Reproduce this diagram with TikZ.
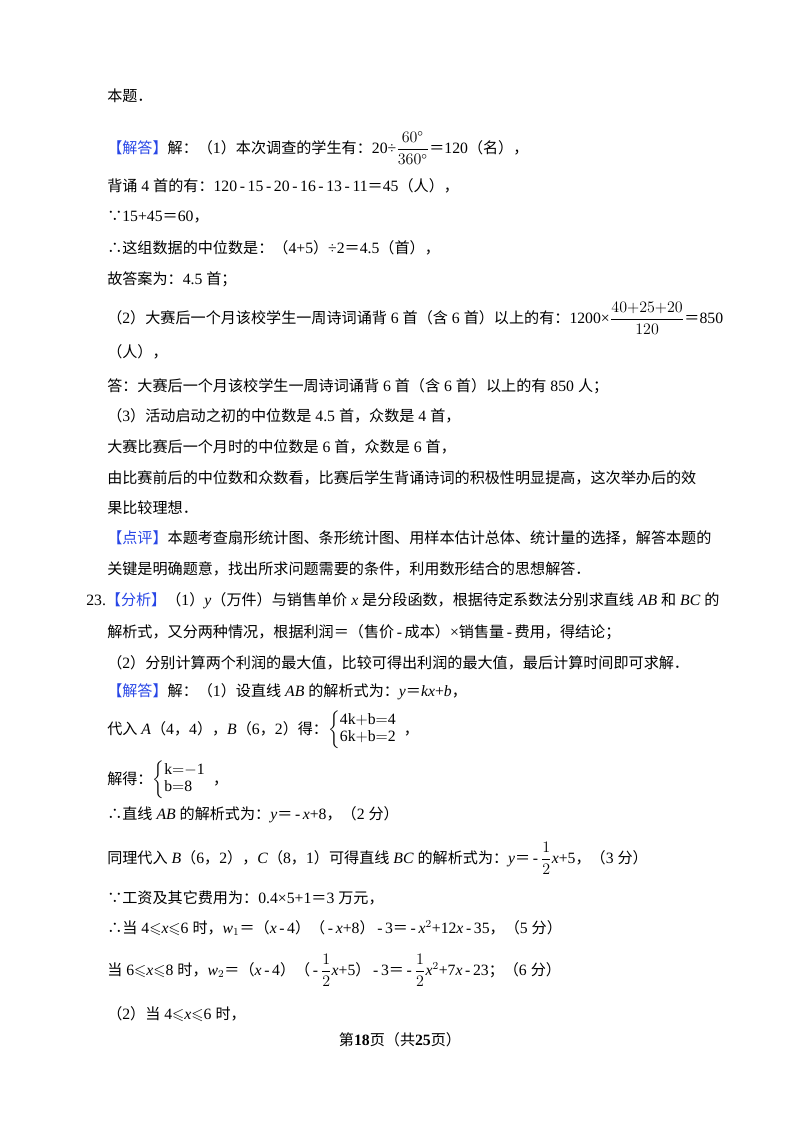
\documentclass[tikz,border=0pt]{standalone}
\usepackage{amsmath,amssymb}
\usepackage{fontspec}
\setmainfont{Liberation Serif}
\newfontfamily\cjk{Noto Sans CJK SC}[Scale=0.96]
\newfontfamily\latin{Liberation Serif}
\XeTeXinterchartokenstate=1
\newXeTeXintercharclass\CJKcls
\count255="3000
\loop \XeTeXcharclass\count255=\CJKcls \ifnum\count255<"9FFF \advance\count255 1 \repeat
\count255="FF00
\loop \XeTeXcharclass\count255=\CJKcls \ifnum\count255<"FF60 \advance\count255 1 \repeat
\XeTeXcharclass"2234=\CJKcls
\XeTeXcharclass"2235=\CJKcls
\XeTeXinterchartoks 0 \CJKcls = {\cjk}
\XeTeXinterchartoks 4095 \CJKcls = {\cjk}
\XeTeXinterchartoks \CJKcls 0 = {\latin}
\XeTeXinterchartoks \CJKcls 4095 = {\latin}
\definecolor{bl}{RGB}{40,70,230}
\tikzset{ln/.style={anchor=west,inner sep=0pt,font=\fontsize{11.8}{14}\selectfont}}
\newcommand\hl[1]{\textcolor{bl}{#1}}
\newcommand\mn{\,-\,}
\newcommand\sys[2]{$\renewcommand\arraystretch{0.9}\left\{\begin{array}{@{}l}\mathrm{#1}\\ \mathrm{#2}\end{array}\right.$}
\begin{document}
\begin{tikzpicture}[x=0.75pt,y=-0.75pt]
\useasboundingbox (0,0) rectangle (800,1132);
\node[ln] (l1) at (107,96) {本题．};
\node[ln] (l2) at (107,148) {\hl{【解答】}解：（1）本次调查的学生有：20÷$\dfrac{60^\circ}{360^\circ}$＝120（名），};
\node[ln] (l3) at (107,186) {背诵 4 首的有：120\mn 15\mn 20\mn 16\mn 13\mn 11＝45（人），};
\node[ln] (l4) at (107,217) {∵15+45＝60，};
\node[ln] (l5) at (107,248) {∴这组数据的中位数是：（4+5）÷2＝4.5（首），};
\node[ln] (l6) at (107,279) {故答案为：4.5 首；};
\node[ln] (l7) at (107,318) {（2）大赛后一个月该校学生一周诗词诵背 6 首（含 6 首）以上的有：1200×$\dfrac{40{+}25{+}20}{120}$＝850};
\node[ln] (l8) at (107,352) {（人），};
\node[ln] (l9) at (107,386) {答：大赛后一个月该校学生一周诗词诵背 6 首（含 6 首）以上的有 850 人；};
\node[ln] (l10) at (107,416) {（3）活动启动之初的中位数是 4.5 首，众数是 4 首，};
\node[ln] (l11) at (107,447) {大赛比赛后一个月时的中位数是 6 首，众数是 6 首，};
\node[ln] (l12) at (107,478) {由比赛前后的中位数和众数看，比赛后学生背诵诗词的积极性明显提高，这次举办后的效};
\node[ln] (l13) at (107,508) {果比较理想．};
\node[ln] (l14) at (107,538) {\hl{【点评】}本题考查扇形统计图、条形统计图、用样本估计总体、统计量的选择，解答本题的};
\node[ln] (l15) at (107,569) {关键是明确题意，找出所求问题需要的条件，利用数形结合的思想解答．};
\node[ln] (l16) at (86,601) {23.\hl{【分析】}（1）\textit{y}（万件）与销售单价 \textit{x} 是分段函数，根据待定系数法分别求直线 \textit{AB} 和 \textit{BC} 的};
\node[ln] (l17) at (107,632) {解析式，又分两种情况，根据利润＝（售价\mn 成本）×销售量\mn 费用，得结论；};
\node[ln] (l18) at (107,663) {（2）分别计算两个利润的最大值，比较可得出利润的最大值，最后计算时间即可求解．};
\node[ln] (l19) at (107,692) {\hl{【解答】}解：（1）设直线 \textit{AB} 的解析式为：\textit{y}＝\textit{kx}+\textit{b}，};
\node[ln] (l20) at (107,730) {代入 \textit{A}（4，4），\textit{B}（6，2）得：\sys{4k{+}b{=}4}{6k{+}b{=}2}，};
\node[ln] (l21) at (107,780) {解得：\sys{k{=}{-}1}{b{=}8}，};
\node[ln] (l22) at (107,815) {∴直线 \textit{AB} 的解析式为：\textit{y}＝\mn\textit{x}+8，（2 分）};
\node[ln] (l23) at (107,858) {同理代入 \textit{B}（6，2），\textit{C}（8，1）可得直线 \textit{BC} 的解析式为：\textit{y}＝\mn$\dfrac{1}{2}$\textit{x}+5，（3 分）};
\node[ln] (l24) at (107,898) {∵工资及其它费用为：0.4×5+1＝3 万元，};
\node[ln] (l25) at (107,928) {∴当 4$\leqslant$\textit{x}$\leqslant$6 时，\textit{w}$_1$＝（\textit{x}\mn 4）（\mn\textit{x}+8）\mn 3＝\mn\textit{x}$^2$+12\textit{x}\mn 35，（5 分）};
\node[ln] (l26) at (107,970) {当 6$\leqslant$\textit{x}$\leqslant$8 时，\textit{w}$_2$＝（\textit{x}\mn 4）（\mn$\dfrac{1}{2}$\textit{x}+5）\mn 3＝\mn$\dfrac{1}{2}$\textit{x}$^2$+7\textit{x}\mn 23；（6 分）};
\node[ln] (l27) at (107,1014) {（2）当 4$\leqslant$\textit{x}$\leqslant$6 时，};
\node[ln,anchor=center] (ft) at (400,1040) {第\textbf{18}页（共\textbf{25}页）};
\end{tikzpicture}
\end{document}
